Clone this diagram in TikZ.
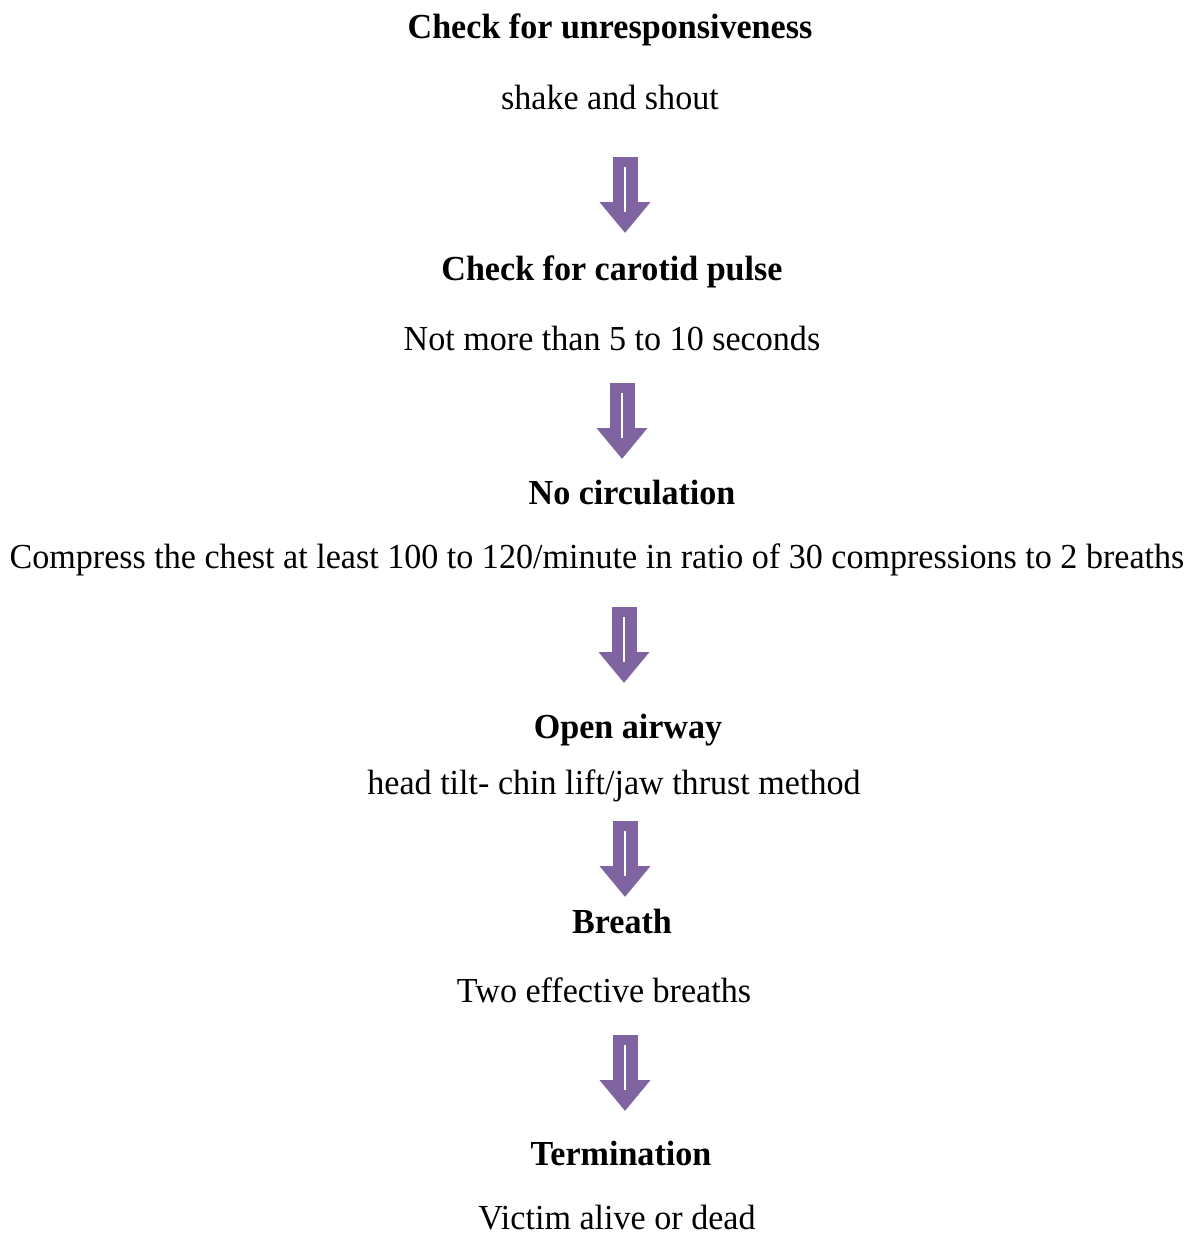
\documentclass[tikz,border=0pt]{standalone}
\usepackage{fontspec}
\setmainfont{Liberation Serif}[FakeStretch=0.97]
\usepackage{tikz}
\usepackage{xcolor}
\usetikzlibrary{arrows.meta}
\definecolor{ArrowPurple}{HTML}{8064A2}

\begin{document}
\begin{tikzpicture}[
  x=0.02cm, y=-0.02cm,
  headnode/.style={inner sep=0pt,font=\fontsize{20}{24}\selectfont\bfseries},
  subnode/.style={inner sep=0pt,font=\fontsize{20}{24}\selectfont},
  ]
  \tikzset{%
    downarrow/.style={
      draw=ArrowPurple,
      line width=0.5cm,
      -{Triangle[width=0.98cm,length=0.62cm]},
    },
    shine/.style={
      draw=white,
      line width=0.6pt,
    },
  }
  \useasboundingbox (0,0) rectangle (1193,1236);
  %Nodes
  \node[headnode](h1) at (610,30){Check for unresponsiveness};
  \node[subnode](s1) at (610,97){shake and shout};
  \node[headnode](h2) at (612,272){Check for carotid pulse};
  \node[subnode](s2) at (612,338){Not more than 5 to 10 seconds};
  \node[headnode](h3) at (632,493){No circulation};
  \node[subnode](s3) at (597,560){Compress the chest at least 100 to 120/minute in ratio of 30 compressions to 2 breaths};
  \node[headnode](h4) at (628,730){Open airway};
  \node[subnode](s4) at (614,786){head tilt- chin lift/jaw thrust method};
  \node[headnode](h5) at (622,921){Breath};
  \node[subnode](s5) at (604,990){Two effective breaths};
  \node[headnode](h6) at (621,1153){Termination};
  \node[subnode](s6) at (617,1218){Victim alive or dead};
  %Arrow ends
  \coordinate (a1) at (625,157);
  \coordinate (b1) at (625,233);
  \coordinate (a2) at (622,383);
  \coordinate (b2) at (622,459);
  \coordinate (a3) at (624,607);
  \coordinate (b3) at (624,683);
  \coordinate (a4) at (625,821);
  \coordinate (b4) at (625,897);
  \coordinate (a5) at (625,1035);
  \coordinate (b5) at (625,1111);
  %Arrows
  \foreach \i in {1,...,5}{
    \draw[downarrow] (a\i) -- (b\i);
    \draw[shine] ([yshift=-0.2cm]a\i) -- ([yshift=-1.1cm]a\i);
  }
\end{tikzpicture}
\end{document}
